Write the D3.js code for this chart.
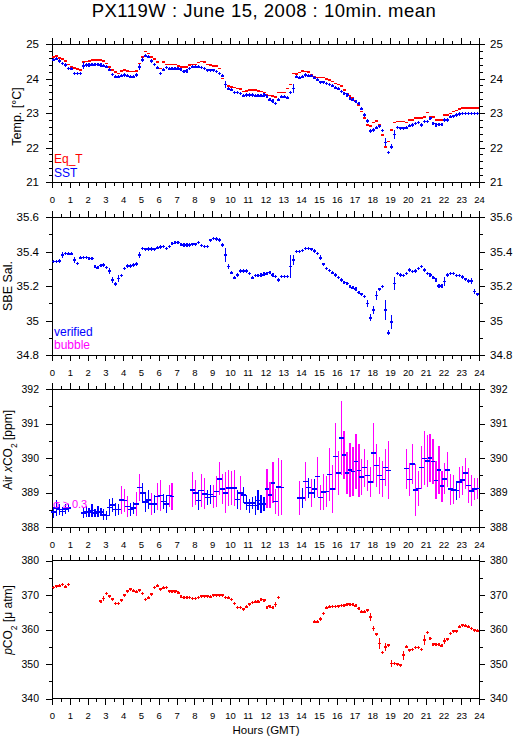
<!DOCTYPE html>
<html>
<head>
<meta charset="utf-8">
<script src="https://cdn.jsdelivr.net/npm/d3@7"></script>
<style>
  body { margin: 0; background: #fff; }
  svg text { font-family: "Liberation Sans", Arial, sans-serif; }
</style>
</head>
<body>
<svg id="chart" width="515" height="739"></svg>
<script>
// --- DATA: 10-min means, index 0..143 (00:00 .. 23:50 GMT) ---
const eqT = [
  24.63, 24.66, 24.60, 24.57, 24.51, 24.41,  24.34, 24.31, 24.28, 24.25, 24.47, 24.49,
  24.51, 24.54, 24.54, 24.54, 24.54, 24.51,  24.44, 24.34, 24.25, 24.18, 24.15, 24.22,
  24.25, 24.22, 24.20, 24.20, 24.22, 24.44,  24.63, 24.78, 24.73, 24.63, 24.56, 24.47,
  24.29, 24.47, 24.41, 24.41, 24.41, 24.41,  24.37, 24.34, 24.34, 24.34, 24.39, 24.41,
  24.41, 24.46, 24.49, 24.47, 24.41, 24.39,  24.36, 24.36, 24.29, 24.00, 23.83, 23.79,
  23.76, 23.74, 23.71, 23.69, 23.62, 23.64,  23.67, 23.67, 23.67, 23.64, 23.62, 23.60,
  23.52, 23.51, 23.49, 23.46, 23.60, 23.60,  23.60, 23.71, 23.83, 24.15, 24.13, 24.17,
  24.22, 24.20, 24.18, 24.12, 24.06, 24.03,  24.03, 24.03, 23.99, 23.96, 23.91, 23.86,
  23.83, 23.79, 23.67, 23.57, 23.49, 23.43,  23.35, 23.23, 23.04, 22.85, 22.65, 22.63,
  22.73, 22.77, 22.67, 22.36, 22.02, 22.17,  22.51, 22.73, 22.75, 22.75, 22.75, 22.73,
  22.80, 22.80, 22.85, 22.86, 22.86, 22.89,  23.01, 22.89, 22.89, 22.80, 22.80, 22.80,
  22.94, 22.94, 22.99, 23.04, 23.07, 23.12,  23.15, 23.15, 23.15, 23.15, 23.15, 23.15
];
const sst = [
  24.54, 24.57, 24.51, 24.44, 24.39, 24.29,  24.28, 24.15, 24.15, 24.15, 24.37, 24.39,
  24.39, 24.40, 24.41, 24.41, 24.39, 24.37,  24.34, 24.25, 24.12, 24.05, 24.05, 24.08,
  24.10, 24.08, 24.05, 24.05, 24.10, 24.34,  24.54, 24.66, 24.63, 24.51, 24.41, 24.31,
  24.15, 24.25, 24.32, 24.28, 24.28, 24.28,  24.28, 24.25, 24.20, 24.22, 24.29, 24.34,
  24.34, 24.34, 24.32, 24.29, 24.24, 24.24,  24.24, 24.20, 24.15, 24.08, 23.83, 23.70,
  23.67, 23.60, 23.60, 23.57, 23.50, 23.52,  23.52, 23.52, 23.50, 23.50, 23.50, 23.52,
  23.48, 23.38, 23.35, 23.28, 23.38, 23.47,  23.47, 23.44, 23.60, 23.71, 24.05, 24.02,
  24.05, 24.10, 24.08, 24.08, 24.02, 23.96,  23.89, 23.89, 23.86, 23.83, 23.79, 23.73,
  23.70, 23.62, 23.57, 23.52, 23.41, 23.38,  23.33, 23.28, 23.12, 22.94, 22.77, 22.48,
  22.51, 22.57, 22.62, 22.49, 22.15, 21.86,  22.02, 22.38, 22.58, 22.56, 22.56, 22.57,
  22.63, 22.65, 22.70, 22.72, 22.65, 22.75,  22.75, 22.85, 22.70, 22.65, 22.67, 22.67,
  22.80, 22.80, 22.89, 22.91, 22.94, 22.97,  22.99, 22.99, 22.99, 22.99, 22.99, 22.99
];
// [index, std] where the SST spread is visible
const sstErr = [[10, .10], [29, .08], [30, .07], [58, .10], [81, .14], [106, .07],
                [112, .12], [114, .07], [115, .13]];

const sal = [
  35.341, 35.341, 35.345, 35.380, 35.389, 35.387,  35.387, 35.351, 35.331, 35.364, 35.366, 35.366,
  35.360, 35.360, 35.312, 35.306, 35.318, 35.322,  35.308, 35.287, 35.235, 35.212, 35.244, 35.260,
  35.302, 35.316, 35.316, 35.322, 35.328, 35.380,  35.418, 35.413, 35.415, 35.415, 35.413, 35.422,
  35.426, 35.428, 35.418, 35.430, 35.447, 35.453,  35.453, 35.442, 35.438, 35.438, 35.438, 35.442,
  35.442, 35.453, 35.434, 35.430, 35.430, 35.465,  35.476, 35.472, 35.467, 35.438, 35.380, 35.312,
  35.277, 35.248, 35.264, 35.287, 35.287, 35.287,  35.273, 35.248, 35.260, 35.260, 35.264, 35.270,
  35.273, 35.279, 35.264, 35.254, 35.235, 35.254,  35.254, 35.254, 35.312, 35.351, 35.399, 35.399,
  35.405, 35.418, 35.418, 35.413, 35.403, 35.389,  35.364, 35.326, 35.302, 35.289, 35.277, 35.264,
  35.250, 35.235, 35.221, 35.215, 35.196, 35.190,  35.183, 35.163, 35.152, 35.138, 35.098, 35.016,
  35.061, 35.144, 35.181, 35.196, 35.061, 34.929,  34.993, 35.215, 35.273, 35.264, 35.260, 35.273,
  35.293, 35.283, 35.287, 35.302, 35.312, 35.293,  35.273, 35.264, 35.248, 35.235, 35.200, 35.200,
  35.225, 35.264, 35.273, 35.273, 35.260, 35.260,  35.252, 35.240, 35.229, 35.229, 35.167, 35.152
];
const salErr = [[3, .015], [7, .02], [19, .015], [20, .015], [22, .02], [29, .02], [58, .04],
                [59, .015], [80, .065], [81, .03], [90, .015], [106, .02], [107, .02], [108, .025],
                [109, .025], [112, .06], [113, .015], [114, .04], [115, .04], [132, .025],
                [141, .015], [142, .015]];

const xco2 = [
  388.43, 388.55, 388.51, 388.45, 388.53, 388.55,  null, null, null, null, 388.40, 388.45,
  388.43, 388.48, 388.40, 388.45, 388.43, 388.35,  388.33, 388.56, 388.64, 388.51, 388.51, 388.79,
  388.77, 388.59, 388.51, 388.55, 388.67, 389.15,  388.99, 388.72, 388.79, 388.67, 388.67, 388.88,
  388.91, 388.74, 388.67, 388.91, 388.88, null,    null, null, null, null, null, 389.08,
  388.99, 388.77, 389.06, 388.96, 388.85, 388.94,  388.88, 389.03, 389.40, 389.11, 388.99, 389.13,
  389.13, 389.13, 388.80, 388.99, 388.93, 388.70,  388.62, 388.69, 388.62, 388.77, 388.67, 388.67,
  389.11, 388.93, 389.28, 388.74, 389.16, 389.14,  null, null, null, null, null, 388.84,
  388.84, 389.32, 389.14, 388.99, 389.11, 389.46,  388.85, 389.01, 389.03, 389.52, 389.11, 390.04,
  389.57, 390.58, 390.09, 389.57, 389.66, 389.61,  389.90, 389.64, 389.45, 389.72, 389.49, 389.30,
  390.15, 389.78, 389.49, 389.38, 389.72, 389.64,  null, null, null, null, null, 389.69,
  389.38, 389.83, 389.08, 389.12, 389.72, 389.99,  389.92, 390.00, 389.90, 389.35, 389.65, 389.18,
  389.40, 389.66, 389.10, 389.08, 389.06, 389.30,  389.36, 389.56, 389.20, 389.05, 389.10, 389.12
];
const xco2Sd = [
  .16, .22, .15, .12, .15, .12,  null, null, null, null, .15, .16,
  .13, .20, .12, .15, .12, .16,  .12, .24, .20, .20, .16, .41,
  .33, .31, .18, .18, .34, .40,  .29, .29, .28, .33, .25, .40,
  .44, .21, .25, .32, .39, null,  null, null, null, null, null, .50,
  .36, .29, .47, .45, .22, .27,  .33, .46, .47, .44, .59, .51,
  .50, .53, .27, .50, .22, .22,  .20, .17, .27, .29, .25, .20,
  .57, .38, .59, .36, .85, .80,  null, null, null, null, null, .50,
  .29, .56, .29, .40, .28, .58,  .36, .53, .44, .77, .70, .97,
  .63, 1.06, .70, .60, .78, .70,  .79, .77, .53, .55, .45, .44,
  .87, .63, .53, .52, .53, .84,  null, null, null, null, null, .58,
  .48, .58, .75, .50, .62, .78,  .75, .70, .65, .55, .70, .45,
  .45, .50, .45, .42, .28, .45,  .42, .45, .50, .45, .32, .30
];

const pco2 = [
  372.17, 372.56, 372.66, 373.04, 372.37, 373.04,  null, null, null, null, null, null,
  null, null, null, null, 368.21, 368.99,  370.43, 369.66, 368.79, 367.54, 367.54, 368.50,
  369.95, 371.11, 371.69, 371.21, 370.92, 371.40,  370.43, 368.70, 369.18, 370.24, 372.17, 372.66,
  371.69, 372.08, 372.17, 371.11, 371.11, 371.11,  370.63, 369.66, 369.28, 369.28, 369.28, 368.99,
  368.99, 369.28, 369.66, 369.66, 369.66, 369.47,  369.95, 369.95, 369.95, 369.95, 369.28, 369.18,
  368.70, 367.54, 366.38, 366.38, 365.89, 366.57,  367.34, 367.83, 368.02, 368.02, 368.70, 368.50,
  366.28, 366.76, 366.38, 367.25, 369.28, null,    null, null, null, null, null, null,
  null, null, null, null, 362.22, 362.22,  363.00, 364.64, 366.28, 366.57, 366.67, 366.67,
  366.76, 366.96, 367.05, 367.34, 367.34, 367.25,  366.86, 366.09, 365.12, 365.12, 365.60, 363.67,
  360.29, 358.65, 355.94, 353.33, 354.98, 355.46,  350.14, 350.14, 349.95, 349.66, 352.56, 354.98,
  354.01, 354.20, 354.78, 354.78, 354.20, 356.91,  359.13, 357.39, 355.75, 355.75, 355.65, 355.27,
  356.62, 357.20, 358.84, 359.52, 359.52, 360.77,  361.26, 361.07, 360.77, 360.29, 359.81, 359.60
];
const pco2Err = [[17, .6], [75, .7], [90, .6], [107, 1.2], [108, .8], [110, 1.7], [112, 1.2],
                 [114, 1.0], [118, 1.3], [125, 1.4], [132, .8]];

// --- LAYOUT ---
const X0 = 52, X1 = 479, PH = 138;
const tops = [44, 217, 389, 560.5];
const RED = "#ff0000", BLUE = "#0000ff", MAG = "#ff00ff";
const svg = d3.select("#chart");

const x = d3.scaleLinear().domain([0, 24]).range([X0, X1]);
const t0 = i => x(i / 6), t1 = i => x((i + 1) / 6), tc = i => x((i + 0.5) / 6);

svg.append("text")
  .attr("x", 264).attr("y", 17)
  .attr("text-anchor", "middle")
  .style("font-size", "18.5px").style("letter-spacing", "0.5px")
  .text("PX119W : June 15, 2008 : 10min. mean");

function frame(top, domain, nMaj, nMin, labFont, labSize, fmt) {
  const y = d3.scaleLinear().domain(domain).range([top + PH, top]);
  const g = svg.append("g");
  const style = sel => sel.call(s => s.select(".domain").remove())
    .attr("font-family", labFont).attr("font-size", labSize);

  g.append("g").attr("transform", `translate(${X0},0)`)
    .call(d3.axisLeft(y).tickValues(y.ticks(nMin)).tickSize(3.5).tickFormat("")).call(style);
  g.append("g").attr("transform", `translate(${X0},0)`)
    .call(d3.axisLeft(y).tickValues(y.ticks(nMaj)).tickSize(6).tickPadding(7).tickFormat(fmt)).call(style);
  g.append("g").attr("transform", `translate(${X1},0)`)
    .call(d3.axisRight(y).tickValues(y.ticks(nMin)).tickSize(3.5).tickFormat("")).call(style);
  g.append("g").attr("transform", `translate(${X1},0)`)
    .call(d3.axisRight(y).tickValues(y.ticks(nMaj)).tickSize(6).tickPadding(5).tickFormat(fmt)).call(style);

  g.append("g").attr("transform", `translate(0,${top + PH})`)
    .call(d3.axisBottom(x).tickValues(x.ticks(48)).tickSize(3.5).tickFormat("")).call(style);
  g.append("g").attr("transform", `translate(0,${top + PH})`)
    .call(d3.axisBottom(x).tickValues(x.ticks(24)).tickSize(6).tickPadding(7.8).tickFormat(d3.format("d")))
    .call(style).attr("font-family", "DejaVu Sans").attr("font-size", 9.5);
  g.append("g").attr("transform", `translate(0,${top})`)
    .call(d3.axisTop(x).tickValues(x.ticks(48)).tickSize(3.5).tickFormat("")).call(style);
  g.append("g").attr("transform", `translate(0,${top})`)
    .call(d3.axisTop(x).tickValues(x.ticks(24)).tickSize(6).tickFormat("")).call(style);

  g.selectAll(".tick line").attr("shape-rendering", "crispEdges");
  g.append("rect")
    .attr("x", X0).attr("y", top).attr("width", X1 - X0).attr("height", PH)
    .attr("fill", "none").attr("stroke", "#000").attr("shape-rendering", "crispEdges");
  return y;
}

function yTitle(xPos, yPos, size, build) {
  const t = svg.append("text")
    .attr("transform", `translate(${xPos},${yPos}) rotate(-90)`)
    .attr("text-anchor", "middle").style("font-size", size + "px");
  build(t);
}

const fmtNum = d => String(+d.toFixed(1));

// horizontal step marks and vertical spreads
function hMarks(y, vals, color, half) {
  const idx = d3.range(vals.length).filter(i => vals[i] != null);
  svg.append("g").attr("stroke", color).attr("stroke-width", 1.6)
    .attr("shape-rendering", "crispEdges")
    .selectAll("line").data(idx).join("line")
    .attr("x1", i => half ? tc(i) - half : t0(i))
    .attr("x2", i => half ? tc(i) + half : t1(i))
    .attr("y1", i => y(vals[i])).attr("y2", i => y(vals[i]));
}
function vMarks(y, vals, errs, color, minHalf) {
  const em = new Map(errs);
  const idx = d3.range(vals.length).filter(i => vals[i] != null);
  svg.append("g").attr("stroke", color).attr("stroke-width", 1.2)
    .attr("shape-rendering", "crispEdges")
    .selectAll("line").data(idx).join("line")
    .attr("x1", tc).attr("x2", tc)
    .attr("y1", i => Math.min(y(vals[i] + (em.get(i) || 0)), y(vals[i]) - minHalf))
    .attr("y2", i => Math.max(y(vals[i] - (em.get(i) || 0)), y(vals[i]) + minHalf));
}

// --- PANEL 1: temperatures ---
const y1 = frame(tops[0], [21, 25], 4, 20, "Liberation Sans", 11.5, fmtNum);
hMarks(y1, eqT, RED);
hMarks(y1, sst, BLUE);
vMarks(y1, sst, sstErr, BLUE, 1.6);
yTitle(20.5, 116.5, 12.5, t => t.text("Temp. [°C]"));
svg.append("text").attr("x", 54).attr("y", 162.5).attr("fill", RED).style("font-size", "12px").text("Eq_T");
svg.append("text").attr("x", 54).attr("y", 176.5).attr("fill", BLUE).style("font-size", "12px").text("SST");

// --- PANEL 2: salinity ---
const y2 = frame(tops[1], [34.8, 35.6], 4, 8, "Liberation Sans", 11.5, fmtNum);
hMarks(y2, sal, BLUE);
vMarks(y2, sal, salErr, BLUE, 1.6);
yTitle(11.5, 286, 12.5, t => t.text("SBE Sal."));
svg.append("text").attr("x", 54).attr("y", 336).attr("fill", BLUE).style("font-size", "12px").text("verified");
svg.append("text").attr("x", 54).attr("y", 348.5).attr("fill", MAG).style("font-size", "12px").text("bubble");

// --- PANEL 3: air xCO2 ---
const y3 = frame(tops[2], [388, 392], 4, 8, "DejaVu Sans", 10.5, d3.format("d"));
const idx3 = d3.range(xco2.length).filter(i => xco2[i] != null);
svg.append("g").attr("stroke-width", 1.2).attr("shape-rendering", "crispEdges")
  .selectAll("line").data(idx3).join("line")
  .attr("stroke", i => xco2Sd[i] >= 0.3 ? MAG : BLUE)
  .attr("x1", tc).attr("x2", tc)
  .attr("y1", i => y3(xco2[i] + xco2Sd[i])).attr("y2", i => y3(xco2[i] - xco2Sd[i]));
hMarks(y3, xco2, BLUE, 2.4);
yTitle(11.5, 450, 12, t => {
  t.append("tspan").text("Air ");
  t.append("tspan").style("font-style", "italic").text("x");
  t.append("tspan").text("CO");
  t.append("tspan").attr("baseline-shift", "sub").style("font-size", "8.5px").text("2");
  t.append("tspan").text(" [ppm]");
});
svg.append("text").attr("x", 53).attr("y", 508).attr("fill", MAG)
  .style("font-size", "11px").text("σ ≥ 0.3");

// --- PANEL 4: pCO2 ---
const y4 = frame(tops[3], [340, 380], 4, 8, "DejaVu Sans", 10.5, d3.format("d"));
hMarks(y4, pco2, RED);
vMarks(y4, pco2, pco2Err, RED, 1.6);
yTitle(11.5, 620, 12, t => {
  t.append("tspan").style("font-style", "italic").text("p");
  t.append("tspan").text("CO");
  t.append("tspan").attr("baseline-shift", "sub").style("font-size", "8.5px").text("2");
  t.append("tspan").text(" [μ atm]");
});

svg.append("text").attr("x", 266).attr("y", 734)
  .attr("text-anchor", "middle")
  .style("font-family", "Liberation Sans").style("font-size", "11.5px")
  .text("Hours (GMT)");
</script>
</body>
</html>
